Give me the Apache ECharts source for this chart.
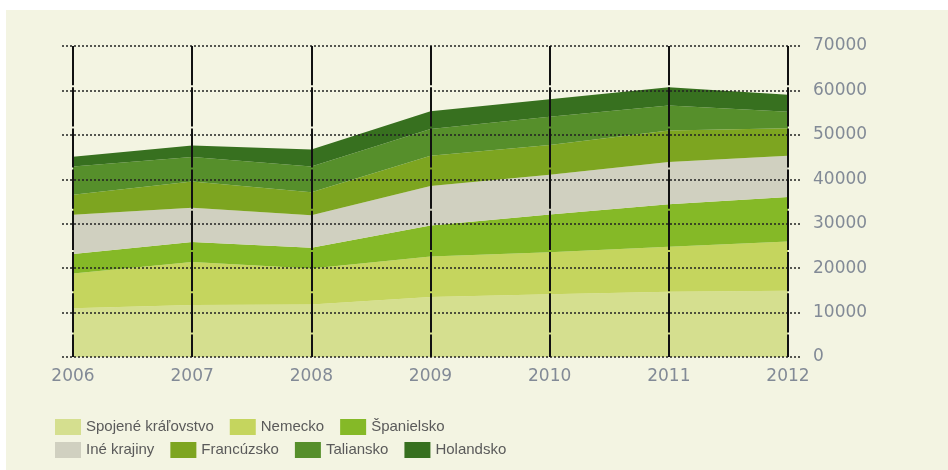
<!DOCTYPE html>
<html>
<head>
<meta charset="utf-8">
<script src="https://cdn.jsdelivr.net/npm/echarts@6/dist/echarts.min.js"></script>
<style>
html,body{margin:0;padding:0;background:#ffffff;}
#c{width:948px;height:470px;}
</style>
</head>
<body>
<div id="c"></div>
<script>
const years = ['2006','2007','2008','2009','2010','2011','2012'];
const yTicks = [0,10000,20000,30000,40000,50000,60000,70000];
const spojene = [11000, 11700, 11800, 13500, 14100, 14700, 14900];
const nemecko = [7800, 9700, 8100, 9100, 9500, 10100, 11100];
const spanielsko = [4400, 4500, 4700, 7000, 8500, 9600, 10000];
const ine = [8800, 7700, 7300, 8900, 8900, 9500, 9300];
const francuzsko = [4500, 5900, 5200, 6800, 6700, 7100, 6200];
const taliansko = [6400, 5500, 5800, 6000, 6400, 5600, 3700];
const holandsko = [2200, 2600, 3800, 4000, 3900, 4100, 3800];

const seriesDefs = [
  {name:'Spojené kráľovstvo', data:spojene, color:'#d5df8f'},
  {name:'Nemecko', data:nemecko, color:'#c5d55e'},
  {name:'Španielsko', data:spanielsko, color:'#85b927'},
  {name:'Iné krajiny', data:ine, color:'#d0d0c0'},
  {name:'Francúzsko', data:francuzsko, color:'#7da520'},
  {name:'Taliansko', data:taliansko, color:'#568f2b'},
  {name:'Holandsko', data:holandsko, color:'#37701f'}
];

const chart = echarts.init(document.getElementById('c'), null, {renderer:'canvas'});
const labelColor = '#828a96';
const axisFont = 'DejaVu Sans, Verdana, sans-serif';
const legendText = {color:'#5a5a5a', fontSize:15, fontFamily:'Liberation Sans, Arial, sans-serif'};

const option = {
  animation:false,
  backgroundColor:'transparent',
  graphic:[{type:'rect', z:-100, shape:{x:6,y:10,width:942,height:460}, style:{fill:'#f3f4e2'}}],
  grid:[
    {left:62, right:148, top:46, bottom:113},
    {left:73, right:160, top:46, bottom:113}
  ],
  xAxis:[
    {gridIndex:0, type:'category', data:years, boundaryGap:false, show:false},
    {gridIndex:1, type:'category', data:years, boundaryGap:false, z:10,
     axisLine:{show:false}, axisTick:{show:false},
     axisLabel:{color:labelColor, fontSize:17, margin:11, fontFamily:axisFont},
     splitLine:{show:true, lineStyle:{color:'#111', width:2, type:[39.2,2]}}}
  ],
  yAxis:[
    {gridIndex:0, type:'value', position:'right', min:0, max:70000, interval:10000, z:10,
     axisLine:{show:false}, axisTick:{show:false},
     axisLabel:{color:labelColor, fontSize:17, margin:13, fontFamily:axisFont,
       formatter:function(v){return yTicks.indexOf(v)>=0 ? String(v) : '';}},
     splitLine:{show:true, lineStyle:{color:'#222', width:1.5, type:[2,2]}}},
    {gridIndex:1, type:'value', min:0, max:70000, interval:10000, show:false, splitLine:{show:false}}
  ],
  legend:[
    {left:50, top:414, itemWidth:26, itemHeight:16, itemGap:16, icon:'rect', textStyle:legendText,
     data:seriesDefs.slice(0,3).map(s=>s.name)},
    {left:50, top:437, itemWidth:26, itemHeight:16, itemGap:16, icon:'rect', textStyle:legendText,
     data:seriesDefs.slice(3).map(s=>s.name)}
  ],
  series: seriesDefs.map(s=>({
    name:s.name, type:'line', xAxisIndex:1, yAxisIndex:1, stack:'total',
    data:s.data, symbol:'none', smooth:false, color:s.color,
    lineStyle:{width:0}, areaStyle:{color:s.color, opacity:1}
  }))
};
chart.setOption(option);
</script>
</body>
</html>
